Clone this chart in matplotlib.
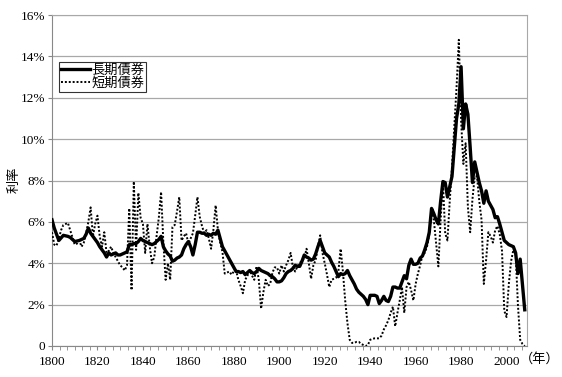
import matplotlib
matplotlib.use("Agg")
import matplotlib.pyplot as plt
from matplotlib.ticker import MultipleLocator, FuncFormatter

plt.rcParams['font.family'] = ['Liberation Serif', 'Noto Sans CJK JP', 'DejaVu Sans']

# long-term bond yields (%)
long_years = [1800, 1801, 1803, 1805, 1807, 1808, 1810, 1812, 1814, 1815, 1816, 1817, 1818, 1819,
              1820, 1821, 1822, 1823, 1824, 1825, 1826, 1827, 1828, 1829, 1830, 1831, 1832, 1833,
              1834, 1835, 1836, 1837, 1838, 1839, 1840, 1841, 1842, 1843, 1844, 1845, 1846, 1847,
              1848, 1849, 1850, 1851, 1852, 1853, 1854, 1855, 1856, 1857, 1858, 1859, 1860, 1861,
              1862, 1863, 1864, 1865, 1866, 1867, 1868, 1869, 1870, 1871, 1872, 1873, 1874, 1875,
              1876, 1877, 1878, 1879, 1880, 1881, 1882, 1883, 1884, 1885, 1886, 1887, 1888, 1889,
              1890, 1891, 1892, 1893, 1894, 1895, 1896, 1897, 1898, 1899, 1900, 1901, 1902, 1903,
              1904, 1905, 1906, 1907, 1908, 1909, 1910, 1911, 1912, 1913, 1914, 1915, 1916, 1917,
              1918, 1919, 1920, 1921, 1922, 1923, 1924, 1925, 1926, 1927, 1928, 1929, 1930, 1931,
              1932, 1933, 1934, 1935, 1936, 1937, 1938, 1939, 1940, 1941, 1942, 1943, 1944, 1945,
              1946, 1947, 1948, 1949, 1950, 1951, 1952, 1953, 1954, 1955, 1956, 1957, 1958, 1959,
              1960, 1961, 1962, 1963, 1964, 1965, 1966, 1967, 1968, 1969, 1970, 1971, 1972, 1973,
              1974, 1975, 1976, 1977, 1978, 1979, 1980, 1981, 1982, 1983, 1984, 1985, 1986, 1987,
              1988, 1989, 1990, 1991, 1992, 1993, 1994, 1995, 1996, 1997, 1998, 1999, 2000, 2001,
              2002, 2003, 2004, 2005, 2006, 2007, 2008]
long_rates = [6.1, 5.7, 5.1, 5.35, 5.3, 5.25, 5.05, 5.1, 5.2, 5.4, 5.7, 5.45, 5.3, 5.15,
              5.0, 4.8, 4.65, 4.5, 4.3, 4.5, 4.4, 4.45, 4.5, 4.4, 4.4, 4.45, 4.5, 4.55,
              4.9, 4.9, 4.95, 4.95, 5.05, 5.2, 5.1, 5.05, 5.0, 4.95, 4.9, 4.95, 5.05, 5.15,
              5.3, 4.8, 4.6, 4.45, 4.35, 4.1, 4.15, 4.25, 4.3, 4.4, 4.7, 4.9, 5.05, 4.8,
              4.4, 4.9, 5.5, 5.5, 5.45, 5.45, 5.35, 5.4, 5.35, 5.45, 5.4, 5.6, 5.2, 4.8,
              4.6, 4.4, 4.2, 4.0, 3.8, 3.6, 3.6, 3.55, 3.6, 3.45, 3.55, 3.65, 3.55, 3.5,
              3.6, 3.75, 3.65, 3.6, 3.55, 3.5, 3.4, 3.35, 3.25, 3.1, 3.1, 3.15, 3.3, 3.5,
              3.6, 3.65, 3.75, 3.9, 3.85, 3.85, 4.1, 4.4, 4.3, 4.25, 4.15, 4.2, 4.45, 4.8,
              5.1, 4.8, 4.5, 4.4, 4.3, 4.05, 3.85, 3.6, 3.35, 3.5, 3.45, 3.5, 3.65, 3.4,
              3.2, 3.0, 2.75, 2.6, 2.5, 2.4, 2.25, 2.0, 2.45, 2.45, 2.45, 2.4, 2.05, 2.2,
              2.4, 2.2, 2.15, 2.4, 2.85, 2.85, 2.8, 2.8, 3.1, 3.4, 3.25, 3.9, 4.2, 3.95,
              3.95, 4.0, 4.25, 4.35, 4.65, 5.0, 5.5, 6.65, 6.4, 6.1, 5.9, 7.0, 7.95, 7.9,
              7.2, 7.7, 8.2, 9.6, 11.0, 11.7, 13.5, 10.5, 11.7, 11.2, 9.6, 7.9, 8.9, 8.4,
              7.9, 7.5, 6.9, 7.5, 7.0, 6.8, 6.6, 6.2, 6.25, 5.9, 5.5, 5.1, 5.0, 4.9,
              4.85, 4.8, 4.5, 3.5, 4.2, 3.0, 1.75]

# short-term rates (%)
short_years = list(range(1800, 2009))
short_rates = [5.5, 4.9, 4.85, 5.2, 5.6, 5.85, 5.9, 5.95, 5.6, 5.25,
               4.9, 4.95, 5.1, 4.8, 5.0, 5.45, 6.0, 6.7, 5.3, 5.9,
               6.3, 5.3, 4.8, 5.5, 4.5, 4.6, 4.8, 4.5, 4.3, 4.1,
               3.9, 3.8, 3.65, 3.9, 6.65, 2.7, 7.95, 4.65, 7.4, 6.2,
               5.9, 4.5, 5.9, 4.8, 4.0, 4.3, 5.3, 6.2, 7.45, 5.0,
               3.2, 4.0, 3.2, 5.75, 5.85, 6.5, 7.2, 5.1, 5.3, 5.45,
               4.95, 5.2, 5.45, 6.3, 7.2, 6.25, 5.8, 5.45, 5.6, 5.2,
               4.7, 5.6, 6.8, 5.6, 5.0, 4.55, 3.5, 3.55, 3.6, 3.45,
               3.6, 3.65, 3.2, 2.9, 2.55, 3.2, 3.4, 3.65, 3.4, 3.2,
               3.85, 3.2, 1.8, 2.6, 3.2, 2.9, 3.0, 3.55, 3.8, 3.8,
               3.5, 3.9, 3.6, 3.9, 4.15, 4.5, 3.8, 3.6, 3.85, 4.0,
               4.15, 4.25, 4.7, 4.0, 3.25, 3.9, 4.15, 4.8, 5.35, 4.5,
               4.0, 3.45, 2.85, 3.2, 3.25, 3.3, 3.6, 4.7, 3.6, 2.2,
               1.1, 0.3, 0.15, 0.15, 0.2, 0.2, 0.1, 0.05, 0.0, 0.05,
               0.3, 0.35, 0.37, 0.37, 0.37, 0.5, 0.8, 1.0, 1.25, 1.6,
               1.9, 0.95, 1.6, 2.2, 2.85, 1.6, 2.85, 3.1, 2.7, 2.2,
               3.0, 3.5, 3.9, 4.4, 4.5, 4.8, 5.4, 6.5, 6.1, 5.0,
               3.85, 6.1, 7.95, 5.45, 5.1, 7.0, 8.65, 10.6, 12.5, 14.8,
               10.9, 8.8, 9.8, 6.7, 5.5, 7.1, 8.2, 8.2, 7.0, 6.1,
               3.0, 4.15, 5.5, 5.3, 5.0, 5.6, 5.8, 5.4, 4.6, 1.7,
               1.4, 3.0, 4.1, 4.65, 4.5, 2.0, 0.3, 0.1, 0.0]

labels = ['長期債券', '短期債券']
x_ticks = list(range(1800, 2001, 20))
y_ticks = list(range(0, 17, 2))

fig = plt.figure(figsize=(5.62, 3.77), dpi=100)
ax = fig.add_axes([52/562, 31/377, 475/562, 331/377])

ax.plot(short_years, short_rates, color='black', lw=1.4, ls=(0, (1, 1)), label=labels[1], zorder=3)
ax.plot(long_years, long_rates, color='black', lw=2.4, label=labels[0], zorder=4)

ax.set_xlim(1800, 2009)
ax.set_ylim(0, 16)
ax.set_xticks(x_ticks)
ax.set_yticks(y_ticks)
ax.xaxis.set_minor_locator(MultipleLocator(10/3))
ax.yaxis.set_major_formatter(FuncFormatter(lambda v, p: '0' if v == 0 else f'{int(v)}%'))
ax.grid(axis='y', color='#a8a8a8', lw=0.9)
ax.set_axisbelow(True)

ax.tick_params(axis='both', which='both', direction='out', length=3, color='#888888',
               labelsize=9.5, pad=2)
ax.tick_params(axis='x', which='major', pad=4)
for s in ['left', 'bottom']:
    ax.spines[s].set_color('#888888')
for s in ['top', 'right']:
    ax.spines[s].set_color('#a8a8a8')

# legend order: long first
h, l = ax.get_legend_handles_labels()
leg = ax.legend(h[::-1], l[::-1], loc='upper left', bbox_to_anchor=(59/562, 1 - 62/377),
                bbox_transform=fig.transFigure, frameon=True, fancybox=False,
                edgecolor='black', fontsize=9.5, handlelength=2.2, handletextpad=0.1,
                labelspacing=0.05, borderpad=0.15, borderaxespad=0)
leg.get_frame().set_linewidth(0.8)

fig.text(15/562, 1 - 180/377, '利率', rotation=90, ha='center', va='center', fontsize=9.5)
fig.text(520/562, 1 - 359/377, '（年）', ha='left', va='center', fontsize=9.5)

fig.savefig('out.png', dpi=100)
